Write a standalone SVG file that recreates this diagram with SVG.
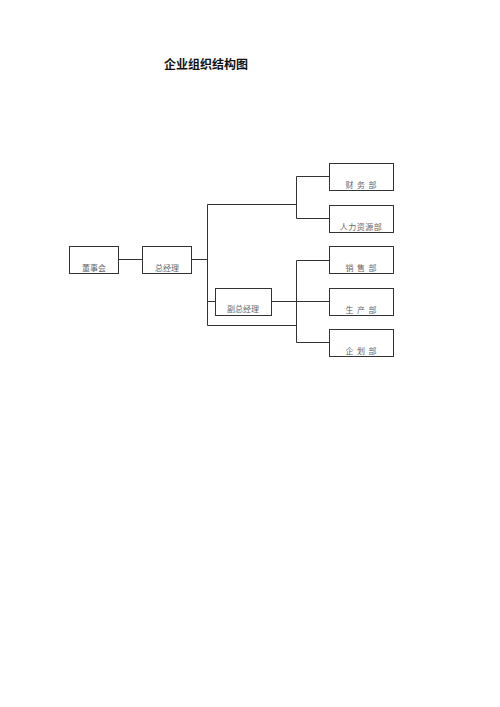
<svg xmlns="http://www.w3.org/2000/svg" width="500" height="707" viewBox="0 0 500 707">
<style>
.box{fill:#fff;stroke:#333;stroke-width:1}
.ln{fill:none;stroke:#333;stroke-width:1}
.t{font-family:"Noto Sans CJK SC","Noto Sans",sans-serif;font-size:8px;fill:#666;text-anchor:middle}
.title{font-family:"Noto Sans CJK SC","Noto Sans",sans-serif;font-size:12px;font-weight:bold;fill:#111;text-anchor:middle}
</style>
<rect width="500" height="707" fill="#fff"/>
<text class="title" x="206" y="69">企业组织结构图</text>
<g id="connectors">
<path class="ln" d="M118 259.5H142M191 259.5H207.5M207.5 204.5V325.5M207.5 204.5H296.5M296.5 176.5V218.5M296.5 176.5H329M296.5 218.5H329M207.5 301.5H215M271 301.5H329M207.5 325.5H296.5M296.5 260.5V342.5M296.5 260.5H329M296.5 342.5H329"/>
</g>
<g id="n1"><rect class="box" x="69.5" y="246.5" width="49" height="27"/><text class="t" x="94" y="271">董事会</text></g>
<g id="n2"><rect class="box" x="142.5" y="246.5" width="49" height="27"/><text class="t" x="167" y="271">总经理</text></g>
<g id="n3"><rect class="box" x="215.5" y="288.5" width="56" height="27"/><text class="t" x="243" y="312">副总经理</text></g>
<g id="n4"><rect class="box" x="329.5" y="163.5" width="64" height="27"/><text class="t" x="361" y="188" xml:space="preserve">财  务  部</text></g>
<g id="n5"><rect class="box" x="329.5" y="205.5" width="64" height="27"/><text class="t" x="361" y="230" letter-spacing="0.5">人力资源部</text></g>
<g id="n6"><rect class="box" x="329.5" y="246.5" width="64" height="27"/><text class="t" x="361" y="271" xml:space="preserve">销  售  部</text></g>
<g id="n7"><rect class="box" x="329.5" y="288.5" width="64" height="27"/><text class="t" x="361" y="313" xml:space="preserve">生  产  部</text></g>
<g id="n8"><rect class="box" x="329.5" y="329.5" width="64" height="27"/><text class="t" x="361" y="354" xml:space="preserve">企  划  部</text></g>
</svg>
